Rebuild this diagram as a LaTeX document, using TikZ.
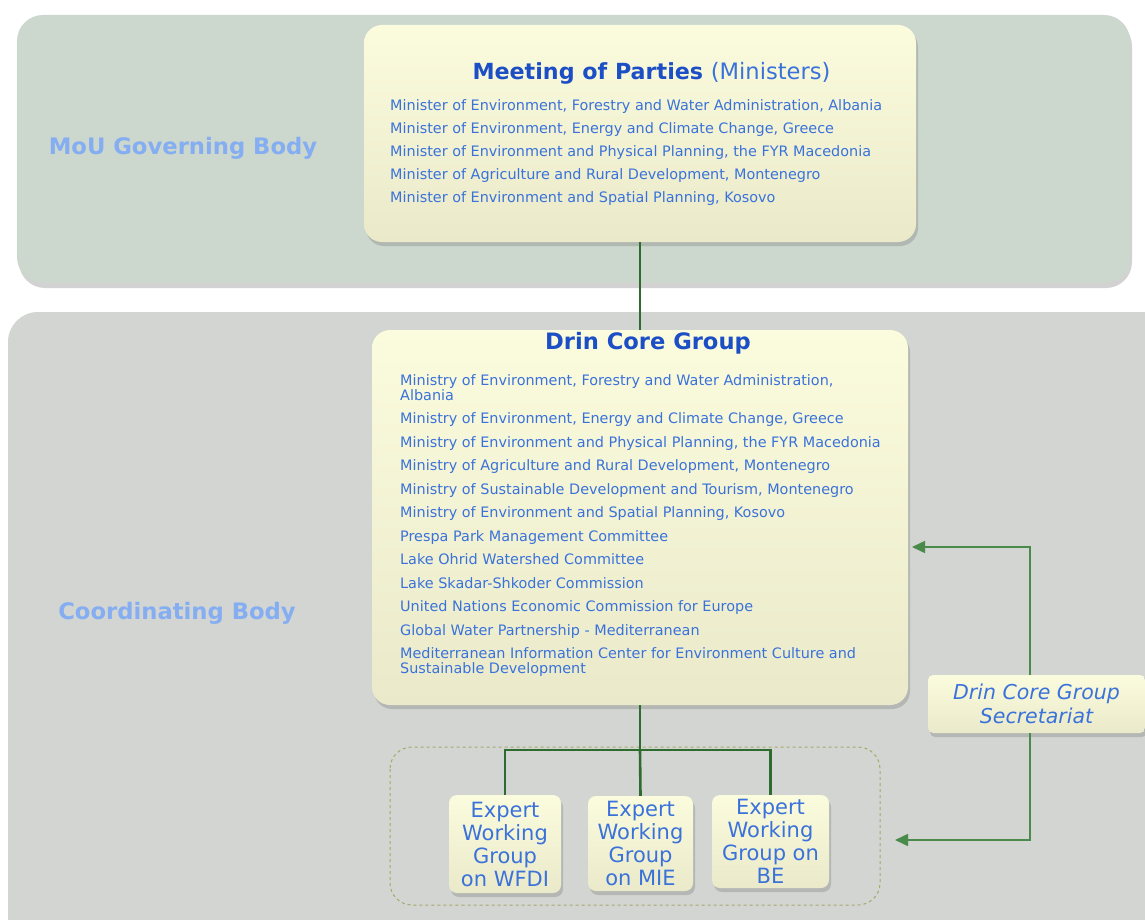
\documentclass[tikz,border=0pt]{standalone}
\usepackage{fontspec}
\setmainfont{DejaVu Sans}
\usetikzlibrary{arrows.meta,shadows,positioning}

\definecolor{bandtop}{HTML}{CCD7CE}
\definecolor{bandbot}{HTML}{D2D5D2}
\definecolor{boxlight}{HTML}{FBFBDD}
\definecolor{boxdark}{HTML}{EAEACB}
\definecolor{titleblue}{HTML}{1C4EC6}
\definecolor{textblue}{HTML}{3A72DA}
\definecolor{labelblue}{HTML}{85AEF2}
\definecolor{linkgreen}{HTML}{2E6B2E}
\definecolor{secgreen}{HTML}{4A8A4A}
\definecolor{dashcol}{HTML}{A8A868}

\tikzset{
  bodybox/.style={rounded corners=18pt, top color=boxlight, bottom color=boxdark,
    draw=none, inner sep=0pt,
    drop shadow={shadow xshift=2pt, shadow yshift=-4pt, opacity=0.35}},
  ewgbox/.style={bodybox, rounded corners=8pt, align=center, text=textblue,
    font=\fontsize{21}{23}\selectfont},
  listtext/.style={anchor=north west, align=left, text=textblue, inner sep=0pt,
    font=\fontsize{14.4}{15}\selectfont},
  bandlabel/.style={text=labelblue, font=\bfseries\fontsize{22.7}{26}\selectfont},
  link/.style={draw=linkgreen, line width=2.6pt},
  seclink/.style={draw=secgreen, line width=1.6pt,
    -{Triangle[length=13pt,width=12pt]}}
}

\begin{document}
\begin{tikzpicture}[x=1pt, y=-1pt]

  \useasboundingbox[fill=white] (0,0) rectangle (1145,920);

  % background bands
  \fill[bandtop, rounded corners=26pt, drop shadow={shadow xshift=2pt, shadow yshift=-5pt, opacity=0.35}]
    (17,15) rectangle (1130,283);
  \fill[bandbot, rounded corners=30pt] (8,312) rectangle (1175,950);

  \node[bandlabel] (mou) at (183,148) {MoU Governing Body};
  \node[bandlabel] (coord) at (177,613) {Coordinating Body};

  % main boxes
  \node[bodybox, minimum width=552pt, minimum height=217pt] (mop) at (640,133.5) {};
  \node[bodybox, minimum width=536pt, minimum height=375pt] (dcg) at (640,517.5) {};

  \node[text=titleblue, inner sep=0pt] (moptitle) at (651.5,73)
    {\bfseries\fontsize{22.2}{26}\selectfont Meeting of Parties
     {\mdseries\color{textblue}\fontsize{22.6}{24}\selectfont (Ministers)}};
  \node[listtext] (moplist) at (390,99) {%
    Minister of Environment, Forestry and Water Administration, Albania\\[8pt]
    Minister of Environment, Energy and Climate Change, Greece\\[8pt]
    Minister of Environment and Physical Planning, the FYR Macedonia\\[8pt]
    Minister of Agriculture and Rural Development, Montenegro\\[8pt]
    Minister of Environment and Spatial Planning, Kosovo};

  \node[text=titleblue, inner sep=0pt, font=\bfseries\fontsize{22.6}{26}\selectfont]
    (dcgtitle) at (648,343) {Drin Core Group};
  \node[listtext] (dcglist) at (400,374) {%
    Ministry of Environment, Forestry and Water Administration,\\
    Albania\\[8.5pt]
    Ministry of Environment, Energy and Climate Change, Greece\\[8.5pt]
    Ministry of Environment and Physical Planning, the FYR Macedonia\\[8.5pt]
    Ministry of Agriculture and Rural Development, Montenegro\\[8.5pt]
    Ministry of Sustainable Development and Tourism, Montenegro\\[8.5pt]
    Ministry of Environment and Spatial Planning, Kosovo\\[8.5pt]
    Prespa Park Management Committee\\[8.5pt]
    Lake Ohrid Watershed Committee\\[8.5pt]
    Lake Skadar-Shkoder Commission\\[8.5pt]
    United Nations Economic Commission for Europe\\[8.5pt]
    Global Water Partnership - Mediterranean\\[8.5pt]
    Mediterranean Information Center for Environment Culture and\\
    Sustainable Development};

  % expert working groups
  \draw[dashcol, dashed, line width=1pt, rounded corners=22pt] (390,747) rectangle (880,905);

  \node[ewgbox, minimum width=112pt, minimum height=98pt] (wfdi) at (505,844)
    {Expert\\Working\\Group\\on WFDI};
  \node[ewgbox, minimum width=105pt, minimum height=95pt] (mie) at (640.5,843.5)
    {Expert\\Working\\Group\\on MIE};
  \node[ewgbox, minimum width=117pt, minimum height=93pt] (be) at (770.5,841.5)
    {Expert\\Working\\Group on\\BE};

  % secretariat
  \node[bodybox, rounded corners=5pt, align=center, text=textblue,
    minimum width=217pt, minimum height=58pt,
    font=\itshape\fontsize{20.5}{24}\selectfont] (sec) at (1036.5,704)
    {Drin Core Group\\Secretariat};

  \coordinate (split) at (640,750);
  \coordinate (secup) at (1030,547);
  \coordinate (secdown) at (1030,840);

  % links
  \path[link] (mop.south) -- (dcg.north);
  \path[link] (dcg.south) -- (split);
  \path[link] (split) -| (wfdi.north);
  \path[link] (split) -- (mie.north);
  \path[link] (split) -| (be.north);

  \path[seclink] (sec.north -| secup) -- (secup) -- (912,547);
  \path[seclink] (sec.south -| secdown) -- (secdown) -- (895,840);

\end{tikzpicture}
\end{document}
